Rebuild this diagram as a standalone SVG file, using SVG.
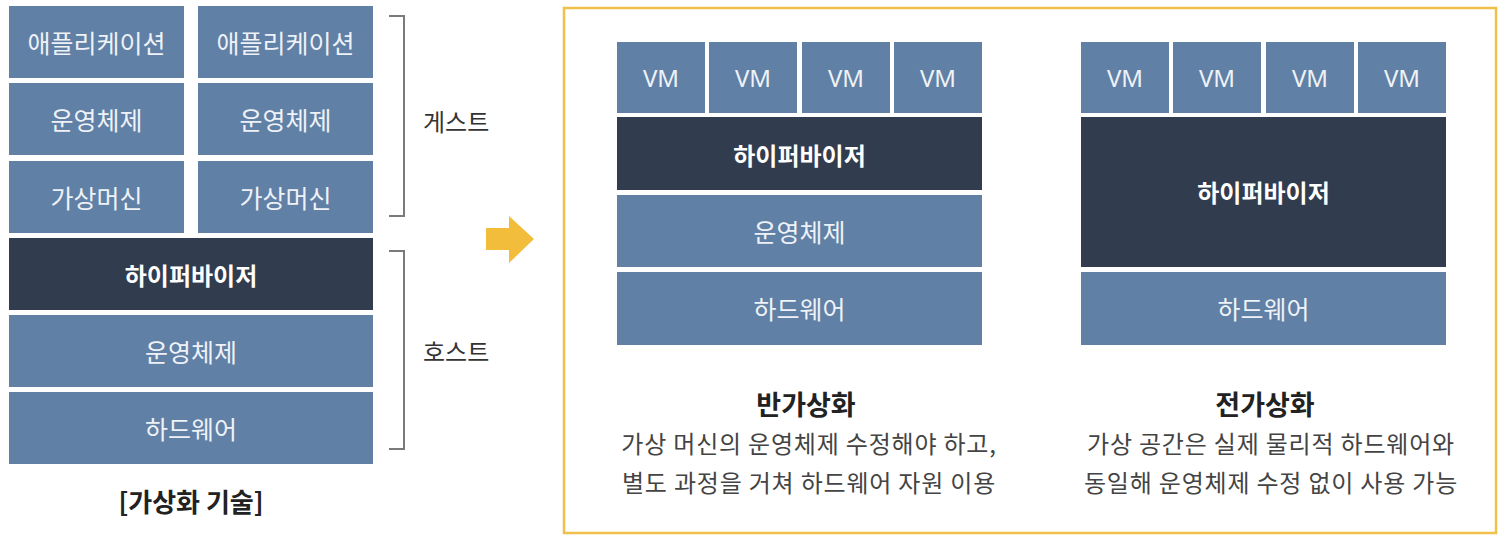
<svg xmlns="http://www.w3.org/2000/svg" width="1500" height="540" viewBox="0 0 1500 540">
<style>
.b{fill:#6180a5}
.d{fill:#313c4e}
.t{font-family:"Noto Sans CJK KR","Noto Sans",sans-serif;font-size:25px;fill:#eef2f7;text-anchor:middle;dominant-baseline:central}
.tb{font-family:"Noto Sans CJK KR","Noto Sans",sans-serif;font-size:24px;font-weight:bold;fill:#ffffff;text-anchor:middle;dominant-baseline:central}
.vm{font-family:"Noto Sans","Liberation Sans",sans-serif;font-size:24px;fill:#eef2f7;text-anchor:middle;dominant-baseline:central}
.l{font-family:"Noto Sans CJK KR",sans-serif;font-size:24px;fill:#333;text-anchor:start;dominant-baseline:central}
.h{font-family:"Noto Sans CJK KR",sans-serif;font-size:27px;font-weight:bold;fill:#222;text-anchor:middle;dominant-baseline:central}
.p{font-family:"Noto Sans CJK KR",sans-serif;font-size:24px;letter-spacing:0.8px;fill:#444;text-anchor:middle;dominant-baseline:central}
.br{fill:none;stroke:#7a7a7a;stroke-width:2}
</style>
<rect width="1500" height="540" fill="#ffffff"/>

<g id="left-stack">
  <g id="app1"><rect class="b" x="9" y="6" width="175" height="72"/><text class="t" x="96.5" y="42">애플리케이션</text></g>
  <g id="app2"><rect class="b" x="198" y="6" width="175" height="72"/><text class="t" x="285.5" y="42">애플리케이션</text></g>
  <g id="os1"><rect class="b" x="9" y="83" width="175" height="72"/><text class="t" x="96.5" y="119">운영체제</text></g>
  <g id="os2"><rect class="b" x="198" y="83" width="175" height="72"/><text class="t" x="285.5" y="119">운영체제</text></g>
  <g id="vm1"><rect class="b" x="9" y="161" width="175" height="72"/><text class="t" x="96.5" y="197">가상머신</text></g>
  <g id="vm2"><rect class="b" x="198" y="161" width="175" height="72"/><text class="t" x="285.5" y="197">가상머신</text></g>
  <g id="hyp"><rect class="d" x="9" y="238" width="364" height="72"/><text class="tb" x="191" y="274">하이퍼바이저</text></g>
  <g id="hostos"><rect class="b" x="9" y="315" width="364" height="72"/><text class="t" x="191" y="351">운영체제</text></g>
  <g id="hw"><rect class="b" x="9" y="392" width="364" height="72"/><text class="t" x="191" y="428">하드웨어</text></g>
  <text class="h" x="191" y="500" style="font-size:26px">[가상화 기술]</text>
</g>

<g id="brackets">
  <path class="br" d="M389 16 H404 V216 H389"/>
  <text class="l" x="423" y="120">게스트</text>
  <path class="br" d="M389 251 H404 V449 H389"/>
  <text class="l" x="423" y="350">호스트</text>
</g>

<g id="connectors">
  <path d="M486 228 H509 V216 L534 239 L509 263 V250 H486 Z" fill="#f3bd3c"/>
</g>

<g id="panel">
  <rect x="564" y="8" width="932" height="525" fill="none" stroke="#f0c04a" stroke-width="2.5"/>
</g>

<g id="half-virt">
  <g id="hv-vm1"><rect class="b" x="617" y="42" width="88" height="71"/><text class="vm" x="661" y="77">VM</text></g>
  <g id="hv-vm2"><rect class="b" x="709" y="42" width="88" height="71"/><text class="vm" x="753" y="77">VM</text></g>
  <g id="hv-vm3"><rect class="b" x="802" y="42" width="88" height="71"/><text class="vm" x="846" y="77">VM</text></g>
  <g id="hv-vm4"><rect class="b" x="894" y="42" width="88" height="71"/><text class="vm" x="938" y="77">VM</text></g>
  <g id="hv-hyp"><rect class="d" x="617" y="117" width="365" height="73"/><text class="tb" x="799.5" y="154">하이퍼바이저</text></g>
  <g id="hv-os"><rect class="b" x="617" y="195" width="365" height="72"/><text class="t" x="799.5" y="231">운영체제</text></g>
  <g id="hv-hw"><rect class="b" x="617" y="272" width="365" height="73"/><text class="t" x="799.5" y="308">하드웨어</text></g>
  <text class="h" x="806" y="403">반가상화</text>
  <text class="p" x="809" y="442">가상 머신의 운영체제 수정해야 하고,</text>
  <text class="p" x="809" y="481">별도 과정을 거쳐 하드웨어 자원 이용</text>
</g>

<g id="full-virt">
  <g id="fv-vm1"><rect class="b" x="1081" y="42" width="88" height="71"/><text class="vm" x="1125" y="77">VM</text></g>
  <g id="fv-vm2"><rect class="b" x="1173" y="42" width="88" height="71"/><text class="vm" x="1217" y="77">VM</text></g>
  <g id="fv-vm3"><rect class="b" x="1266" y="42" width="88" height="71"/><text class="vm" x="1310" y="77">VM</text></g>
  <g id="fv-vm4"><rect class="b" x="1358" y="42" width="88" height="71"/><text class="vm" x="1402" y="77">VM</text></g>
  <g id="fv-hyp"><rect class="d" x="1081" y="117" width="365" height="150"/><text class="tb" x="1263.5" y="191">하이퍼바이저</text></g>
  <g id="fv-hw"><rect class="b" x="1081" y="272" width="365" height="73"/><text class="t" x="1263.5" y="308">하드웨어</text></g>
  <text class="h" x="1265" y="403">전가상화</text>
  <text class="p" x="1271" y="442">가상 공간은 실제 물리적 하드웨어와</text>
  <text class="p" x="1271" y="481">동일해 운영체제 수정 없이 사용 가능</text>
</g>
</svg>
